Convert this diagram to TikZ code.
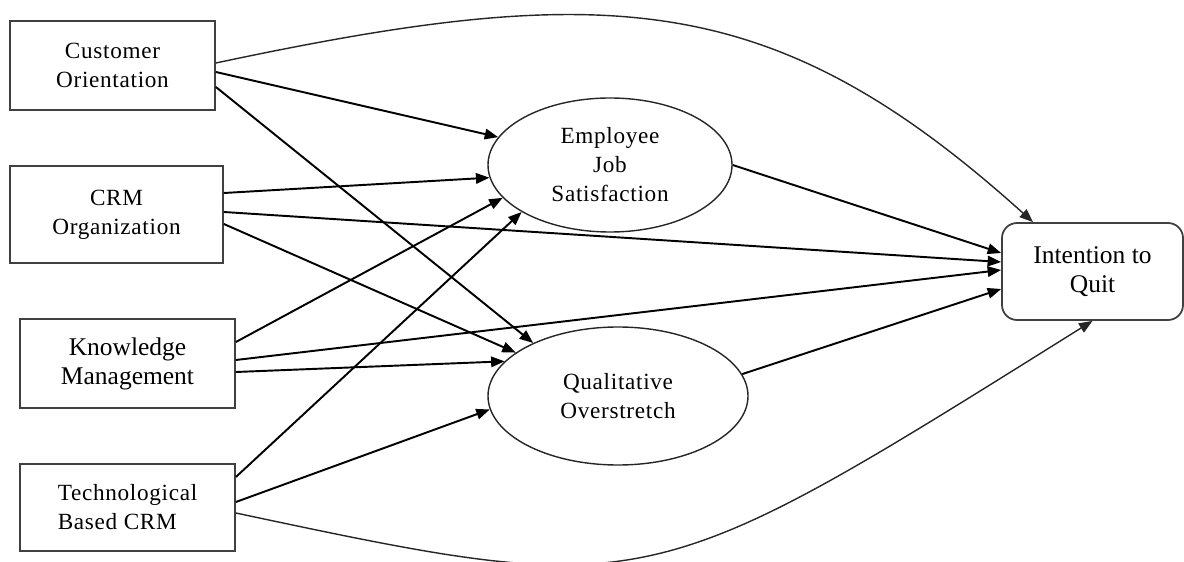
\documentclass[tikz,border=0pt]{standalone}
\usepackage{fontspec}
\setmainfont{Liberation Serif}
\newfontfamily\spaced[LetterSpace=3]{Liberation Serif}
\usetikzlibrary{arrows.meta,shapes.geometric}

\newcommand{\plaintext}{\fontsize{14.5}{16.5}\selectfont}
\newcommand{\sptext}{\spaced\fontsize{13.2}{16.5}\selectfont}

\tikzset{
  construct/.style={draw=black!75, line width=1pt, align=center, inner sep=0pt},
  latent/.style={ellipse, draw=black!85, line width=0.8pt, align=center, inner sep=0pt},
  effect/.style={line width=1.1pt, -{Triangle[length=0.27cm,width=0.21cm]}},
  direct/.style={line width=0.8pt, draw=black!85, -{Triangle[length=0.27cm,width=0.21cm]}}
}

\begin{document}
\begin{tikzpicture}
\useasboundingbox (0,0) rectangle (23.68,-11.24);

\node[construct, minimum width=4.1cm, minimum height=1.78cm, font=\sptext] (co) at (2.25,-1.31) {Customer\\Orientation};
\node[construct, minimum width=4.26cm, minimum height=1.94cm, font=\sptext] (crm) at (2.33,-4.29) {CRM\\Organization};
\node[construct, minimum width=4.3cm, minimum height=1.78cm, font=\plaintext] (km) at (2.55,-7.27) {Knowledge\\Management};
\node[construct, minimum width=4.3cm, minimum height=1.74cm, font=\sptext, align=left] (tbc) at (2.55,-10.15) {Technological\\Based CRM};

\node[latent, minimum width=4.88cm, minimum height=2.68cm, font=\sptext] (ejs) at (12.2,-3.3) {Employee\\Job\\Satisfaction};
\node[latent, minimum width=5.2cm, minimum height=2.76cm, font=\sptext] (qo) at (12.36,-7.92) {Qualitative\\Overstretch};

\node[construct, rounded corners=0.3cm, minimum width=3.62cm, minimum height=1.94cm, font=\plaintext] (iq) at (21.85,-5.43) {Intention to\\Quit};

\draw[direct] ([yshift=0.05cm]co.east) .. controls +(12:8cm) and +(138:7cm) .. ([xshift=-1.19cm]iq.north);
\draw[effect] ([yshift=-0.13cm]co.east) -- (ejs.166);
\draw[effect] ([yshift=-0.43cm]co.east) -- (qo.148);

\draw[effect] ([yshift=0.43cm]crm.east) -- (ejs.186);
\draw[effect] ([yshift=0.05cm]crm.east) -- ([yshift=0.19cm]iq.west);
\draw[effect] ([yshift=-0.19cm]crm.east) -- (qo.157);

\draw[effect] ([yshift=0.43cm]km.east) -- (ejs.197);
\draw[effect] ([yshift=0.07cm]km.east) -- ([yshift=0.03cm]iq.west);
\draw[effect] ([yshift=-0.17cm]km.east) -- (qo.163);

\draw[effect] ([yshift=0.61cm]tbc.east) -- (ejs.208);
\draw[effect] ([yshift=0.11cm]tbc.east) -- (qo.186);
\draw[direct] ([yshift=-0.11cm]tbc.east) .. controls +(-12:8.5cm) and +(212:10.5cm) .. (iq.south);

\draw[effect] (ejs.east) -- ([yshift=0.37cm]iq.west);
\draw[effect] (qo.10) -- ([yshift=-0.35cm]iq.west);
\end{tikzpicture}
\end{document}
